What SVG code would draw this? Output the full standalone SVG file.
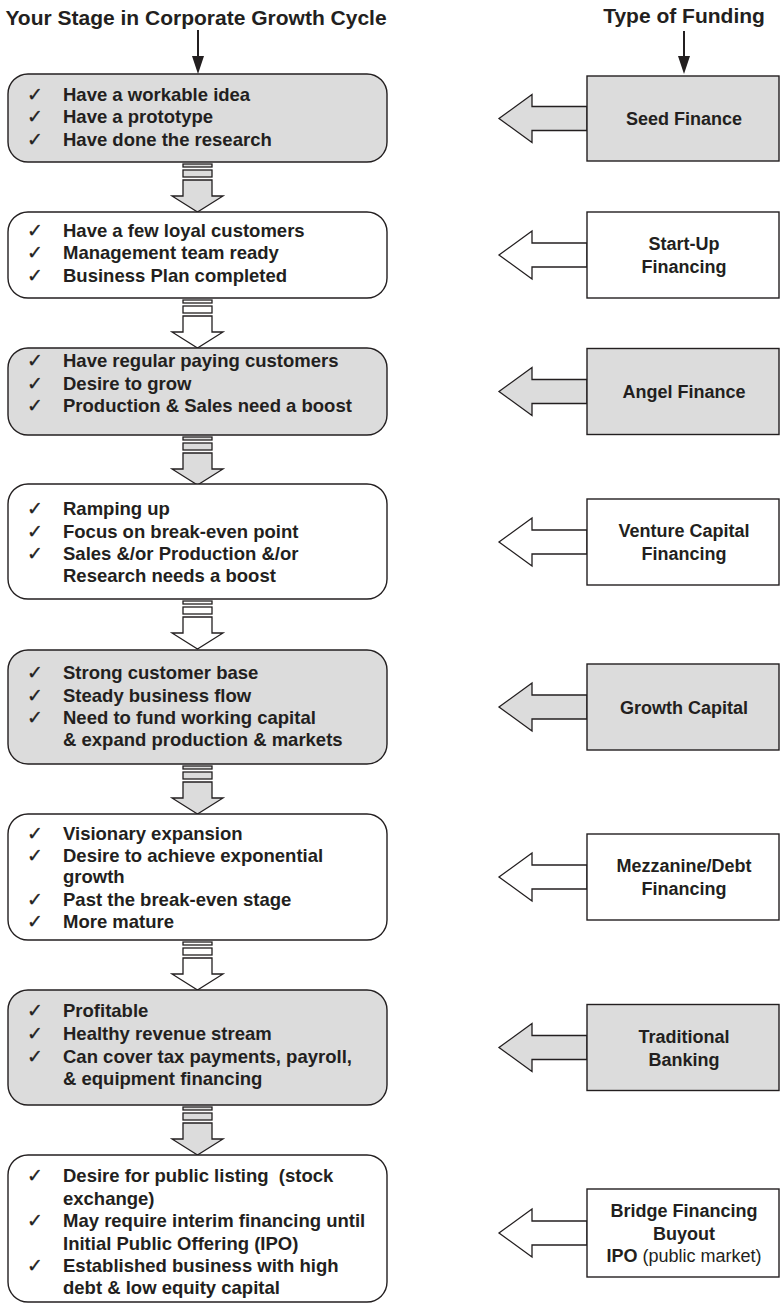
<svg xmlns="http://www.w3.org/2000/svg" xmlns:xlink="http://www.w3.org/1999/xlink" width="780" height="1305" viewBox="0 0 780 1305">
  <style>
    .bg { fill: #ffffff; }
    .head { font-family: "Liberation Sans", Arial, sans-serif; font-weight: bold; font-size: 21px; fill: #231f20; text-anchor: middle; }
    .stage { stroke: #231f20; stroke-width: 1.4; }
    .fund { stroke: #231f20; stroke-width: 1.4; }
    .gray { fill: #dcdcdc; }
    .white { fill: #ffffff; }
    .item { font-family: "Liberation Sans", Arial, sans-serif; font-weight: bold; font-size: 18.5px; fill: #231f20; white-space: pre; }
    .tick { font-family: "DejaVu Sans", sans-serif; font-size: 19px; fill: #231f20; stroke: #231f20; stroke-width: 0.3; }
    .label { font-family: "Liberation Sans", Arial, sans-serif; font-weight: bold; font-size: 18px; fill: #231f20; text-anchor: middle; }
    .plain { font-weight: normal; }
    .conn { stroke: #231f20; stroke-width: 1.3; stroke-linejoin: miter; }
    .pointer { stroke: #231f20; stroke-width: 2; fill: none; }
  </style>
  <defs>
    <!-- block arrow between two stages, origin at the bottom of the upper stage -->
    <g id="step-down">
      <rect x="183" y="2" width="29" height="3"/>
      <rect x="183" y="8" width="29" height="7"/>
      <polygon points="183,18 212,18 212,34 223,34 197.5,50 172,34 183,34"/>
    </g>
    <!-- block arrow from a funding box back to its stage, origin at the tip -->
    <polygon id="point-left" points="88,-12 33,-12 33,-24 0,0 33,24 33,12 88,12"/>
  </defs>

  <rect class="bg" x="0" y="0" width="780" height="1305"/>

  <!-- column headings -->
  <g id="headings">
    <text class="head" x="196" y="25">Your Stage in Corporate Growth Cycle</text>
    <text class="head" x="684" y="23">Type of Funding</text>
    <line class="pointer" x1="198" y1="30" x2="198" y2="60"/>
    <polygon points="192,56 204,56 198,74" fill="#231f20"/>
    <line class="pointer" x1="684" y1="31" x2="684" y2="60"/>
    <polygon points="678,56 690,56 684,74" fill="#231f20"/>
  </g>

  <!-- connectors -->
  <g id="connectors">
    <use xlink:href="#step-down" class="conn gray" transform="translate(0,162)"/>
    <use xlink:href="#step-down" class="conn white" transform="translate(0,298)"/>
    <use xlink:href="#step-down" class="conn gray" transform="translate(0,435)"/>
    <use xlink:href="#step-down" class="conn white" transform="translate(0,599)"/>
    <use xlink:href="#step-down" class="conn gray" transform="translate(0,764)"/>
    <use xlink:href="#step-down" class="conn white" transform="translate(0,940)"/>
    <use xlink:href="#step-down" class="conn gray" transform="translate(0,1105)"/>

    <use xlink:href="#point-left" class="conn gray" transform="translate(499,118.5)"/>
    <use xlink:href="#point-left" class="conn white" transform="translate(499,255)"/>
    <use xlink:href="#point-left" class="conn gray" transform="translate(499,391.5)"/>
    <use xlink:href="#point-left" class="conn white" transform="translate(499,542)"/>
    <use xlink:href="#point-left" class="conn gray" transform="translate(499,707)"/>
    <use xlink:href="#point-left" class="conn white" transform="translate(499,877)"/>
    <use xlink:href="#point-left" class="conn gray" transform="translate(499,1047.5)"/>
    <use xlink:href="#point-left" class="conn white" transform="translate(499,1233)"/>
  </g>

  <!-- growth stages -->
  <g id="stage-1">
    <rect class="stage gray" x="8" y="74" width="379" height="88" rx="20"/>
    <text class="tick" x="27" y="100.5">✓</text><text class="item" x="63" y="100.5">Have a workable idea</text>
    <text class="tick" x="27" y="123">✓</text><text class="item" x="63" y="123">Have a prototype</text>
    <text class="tick" x="27" y="145.5">✓</text><text class="item" x="63" y="145.5">Have done the research</text>
  </g>
  <g id="stage-2">
    <rect class="stage white" x="8" y="212" width="379" height="86" rx="20"/>
    <text class="tick" x="27" y="236.5">✓</text><text class="item" x="63" y="236.5">Have a few loyal customers</text>
    <text class="tick" x="27" y="259">✓</text><text class="item" x="63" y="259">Management team ready</text>
    <text class="tick" x="27" y="281.5">✓</text><text class="item" x="63" y="281.5">Business Plan completed</text>
  </g>
  <g id="stage-3">
    <rect class="stage gray" x="8" y="348" width="379" height="87" rx="20"/>
    <text class="tick" x="27" y="367">✓</text><text class="item" x="63" y="367">Have regular paying customers</text>
    <text class="tick" x="27" y="389.5">✓</text><text class="item" x="63" y="389.5">Desire to grow</text>
    <text class="tick" x="27" y="412">✓</text><text class="item" x="63" y="412">Production &amp; Sales need a boost</text>
  </g>
  <g id="stage-4">
    <rect class="stage white" x="8" y="484" width="379" height="115" rx="20"/>
    <text class="tick" x="27" y="514.5">✓</text><text class="item" x="63" y="514.5">Ramping up</text>
    <text class="tick" x="27" y="537.5">✓</text><text class="item" x="63" y="537.5">Focus on break-even point</text>
    <text class="tick" x="27" y="559.5">✓</text><text class="item" x="63" y="559.5">Sales &amp;/or Production &amp;/or</text>
    <text class="item" x="63" y="582">Research needs a boost</text>
  </g>
  <g id="stage-5">
    <rect class="stage gray" x="8" y="650" width="379" height="114" rx="20"/>
    <text class="tick" x="27" y="679">✓</text><text class="item" x="63" y="679">Strong customer base</text>
    <text class="tick" x="27" y="701.5">✓</text><text class="item" x="63" y="701.5">Steady business flow</text>
    <text class="tick" x="27" y="723.5">✓</text><text class="item" x="63" y="723.5">Need to fund working capital</text>
    <text class="item" x="63" y="746">&amp; expand production &amp; markets</text>
  </g>
  <g id="stage-6">
    <rect class="stage white" x="8" y="814" width="379" height="126" rx="20"/>
    <text class="tick" x="27" y="839.5">✓</text><text class="item" x="63" y="839.5">Visionary expansion</text>
    <text class="tick" x="27" y="861.5">✓</text><text class="item" x="63" y="861.5">Desire to achieve exponential</text>
    <text class="item" x="63" y="883">growth</text>
    <text class="tick" x="27" y="905.5">✓</text><text class="item" x="63" y="905.5">Past the break-even stage</text>
    <text class="tick" x="27" y="928">✓</text><text class="item" x="63" y="928">More mature</text>
  </g>
  <g id="stage-7">
    <rect class="stage gray" x="8" y="990" width="379" height="115" rx="20"/>
    <text class="tick" x="27" y="1017">✓</text><text class="item" x="63" y="1017">Profitable</text>
    <text class="tick" x="27" y="1040">✓</text><text class="item" x="63" y="1040">Healthy revenue stream</text>
    <text class="tick" x="27" y="1063">✓</text><text class="item" x="63" y="1063">Can cover tax payments, payroll,</text>
    <text class="item" x="63" y="1084.5">&amp; equipment financing</text>
  </g>
  <g id="stage-8">
    <rect class="stage white" x="8" y="1155" width="379" height="147" rx="20"/>
    <text class="tick" x="27" y="1181.5">✓</text><text class="item" x="63" y="1181.5">Desire for public listing  (stock</text>
    <text class="item" x="63" y="1204.5">exchange)</text>
    <text class="tick" x="27" y="1226.5">✓</text><text class="item" x="63" y="1226.5">May require interim financing until</text>
    <text class="item" x="63" y="1249.5">Initial Public Offering (IPO)</text>
    <text class="tick" x="27" y="1271.5">✓</text><text class="item" x="63" y="1271.5">Established business with high</text>
    <text class="item" x="63" y="1293.5">debt &amp; low equity capital</text>
  </g>

  <!-- funding types -->
  <g id="fund-seed">
    <rect class="fund gray" x="587" y="76" width="192" height="85"/>
    <text class="label" x="684" y="125">Seed Finance</text>
  </g>
  <g id="fund-startup">
    <rect class="fund white" x="587" y="212" width="192" height="86"/>
    <text class="label" x="684" y="250">Start-Up</text>
    <text class="label" x="684" y="273">Financing</text>
  </g>
  <g id="fund-angel">
    <rect class="fund gray" x="587" y="348.5" width="192" height="86"/>
    <text class="label" x="684" y="398">Angel Finance</text>
  </g>
  <g id="fund-venture">
    <rect class="fund white" x="587" y="499" width="192" height="86"/>
    <text class="label" x="684" y="537">Venture Capital</text>
    <text class="label" x="684" y="560">Financing</text>
  </g>
  <g id="fund-growth">
    <rect class="fund gray" x="587" y="664" width="192" height="86"/>
    <text class="label" x="684" y="713.5">Growth Capital</text>
  </g>
  <g id="fund-mezzanine">
    <rect class="fund white" x="587" y="834" width="192" height="86"/>
    <text class="label" x="684" y="872">Mezzanine/Debt</text>
    <text class="label" x="684" y="895">Financing</text>
  </g>
  <g id="fund-banking">
    <rect class="fund gray" x="587" y="1004.5" width="192" height="86"/>
    <text class="label" x="684" y="1042.5">Traditional</text>
    <text class="label" x="684" y="1065.5">Banking</text>
  </g>
  <g id="fund-bridge">
    <rect class="fund white" x="587" y="1189" width="192" height="88"/>
    <text class="label" x="684" y="1217">Bridge Financing</text>
    <text class="label" x="684" y="1239.5">Buyout</text>
    <text class="label" x="684" y="1262">IPO<tspan class="plain"> (public market)</tspan></text>
  </g>
</svg>
